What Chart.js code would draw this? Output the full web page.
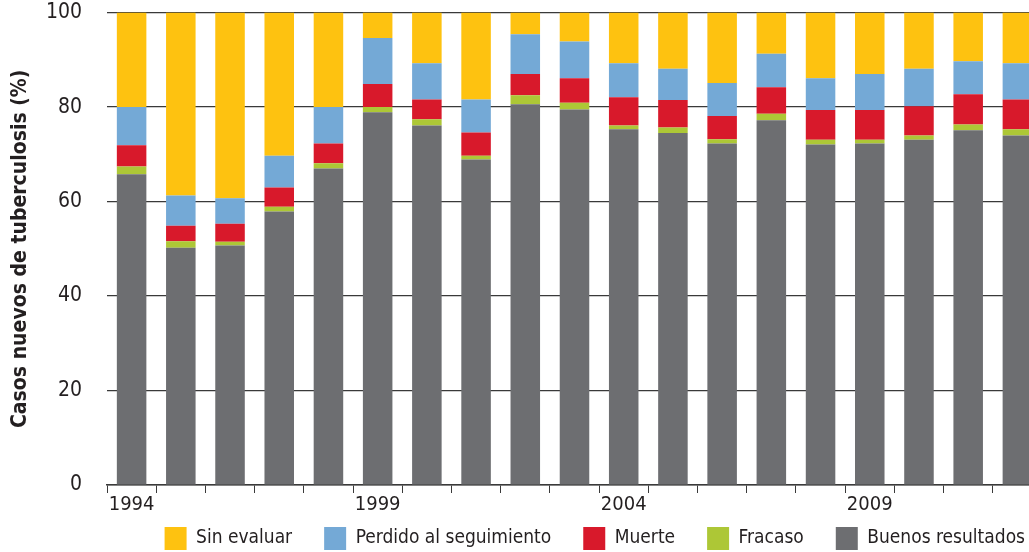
<!DOCTYPE html>
<html>
<head>
<meta charset="utf-8">
<script src="https://cdn.jsdelivr.net/npm/chart.js@4"></script>
<style>
  html, body { margin: 0; padding: 0; background: #fff; }
  #wrap { width: 1029px; height: 552px; overflow: hidden; }
  #box { width: 1042px; height: 552px; }
</style>
</head>
<body>
<div id="wrap"><div id="box"><canvas id="chart"></canvas></div></div>
<script>
// Years and outcome shares (%)
const years = ['1994','1995','1996','1997','1998','1999','2000','2001','2002','2003',
               '2004','2005','2006','2007','2008','2009','2010','2011','2012'];
const buenos   = [65.8, 50.2, 50.7, 57.9, 67.0, 78.9, 76.1, 68.9, 80.6, 79.5, 75.3, 74.5, 72.3, 77.2, 72.1, 72.3, 73.1, 75.1, 74.0];
const fracaso  = [1.6, 1.4, 0.8, 1.0, 1.1, 1.1, 1.3, 0.8, 1.9, 1.4, 0.8, 1.2, 0.9, 1.4, 1.0, 0.8, 0.9, 1.2, 1.3];
const muerte   = [4.5, 3.3, 3.8, 4.1, 4.2, 4.9, 4.2, 4.9, 4.5, 5.2, 6.0, 5.8, 4.9, 5.6, 6.3, 6.3, 6.2, 6.4, 6.3];
const perdido  = [8.1, 6.4, 5.4, 6.7, 7.7, 9.7, 7.7, 7.0, 8.4, 7.8, 7.2, 6.6, 7.0, 7.1, 6.7, 7.6, 7.9, 7.0, 7.7];
const sinEval  = [20.0, 38.7, 39.3, 30.3, 20.0, 5.4, 10.7, 18.4, 4.6, 6.1, 10.7, 11.9, 14.9, 8.7, 13.9, 13.0, 11.9, 10.3, 10.7];
const yTicks   = [0, 20, 40, 60, 80, 100];
const labeledYears = ['1994', '1999', '2004', '2009'];

const font = "'Liberation Sans Narrow', 'DejaVu Sans Condensed', sans-serif";
const ink = '#231f20';
const axisInk = '#3a3a3a';

function series(label, data, color) {
    return { label: label, data: data, backgroundColor: color, borderWidth: 0,
             barPercentage: 0.6, categoryPercentage: 1.0 };
}

// move the legend to the right edge of the visible picture and a bit up
const legendShift = {
    id: 'legendShift',
    afterLayout: function(chart) {
        const lg = chart.legend;
        lg.left += 15;
        lg.right += 15;
        lg.top -= 22;
        lg.height += 22;
    }
};

new Chart(document.getElementById('chart'), {
    type: 'bar',
    data: {
        labels: years,
        datasets: [
            series('Buenos resultados', buenos, '#6d6e71'),
            series('Fracaso', fracaso, '#adc736'),
            series('Muerte', muerte, '#d8192b'),
            series('Perdido al seguimiento', perdido, '#74a9d6'),
            series('Sin evaluar', sinEval, '#fec210')
        ]
    },
    plugins: [legendShift],
    options: {
        responsive: true,
        maintainAspectRatio: false,
        animation: false,
        layout: { padding: 0 },
        plugins: {
            tooltip: { enabled: false },
            legend: {
                position: 'bottom',
                align: 'end',
                reverse: true,
                maxHeight: 35,
                labels: {
                    boxWidth: 22,
                    boxHeight: 23,
                    padding: 32,
                    color: ink,
                    font: { family: font, size: 19 }
                }
            }
        },
        scales: {
            x: {
                stacked: true,
                offset: true,
                afterFit: function(scale) { scale.height = 32; },
                grid: {
                    offset: true,
                    drawOnChartArea: false,
                    drawTicks: true,
                    tickLength: 8,
                    color: axisInk
                },
                border: { display: true, color: axisInk, width: 1.5 },
                ticks: {
                    autoSkip: false,
                    maxRotation: 0,
                    color: ink,
                    padding: 0,
                    font: { family: font, size: 20 },
                    callback: function(v, i) {
                        const y = years[i];
                        return labeledYears.includes(y) ? y : '';
                    }
                }
            },
            y: {
                stacked: true,
                min: 0,
                max: 100,
                afterBuildTicks: function(axis) {
                    axis.ticks = yTicks.map(function(v) { return { value: v }; });
                },
                afterFit: function(scale) { scale.width = 107; },
                grid: { color: axisInk, lineWidth: 1.2, drawTicks: true, tickLength: 25, tickColor: 'rgba(0,0,0,0)' },
                border: { display: false },
                ticks: {
                    color: ink,
                    padding: 0,
                    font: { family: font, size: 21 }
                },
                title: {
                    display: true,
                    text: 'Casos nuevos de tuberculosis (%)',
                    color: ink,
                    padding: { top: 8, bottom: 4 },
                    font: { family: font, size: 21, weight: 'bold' }
                }
            }
        }
    }
});
</script>
</body>
</html>
